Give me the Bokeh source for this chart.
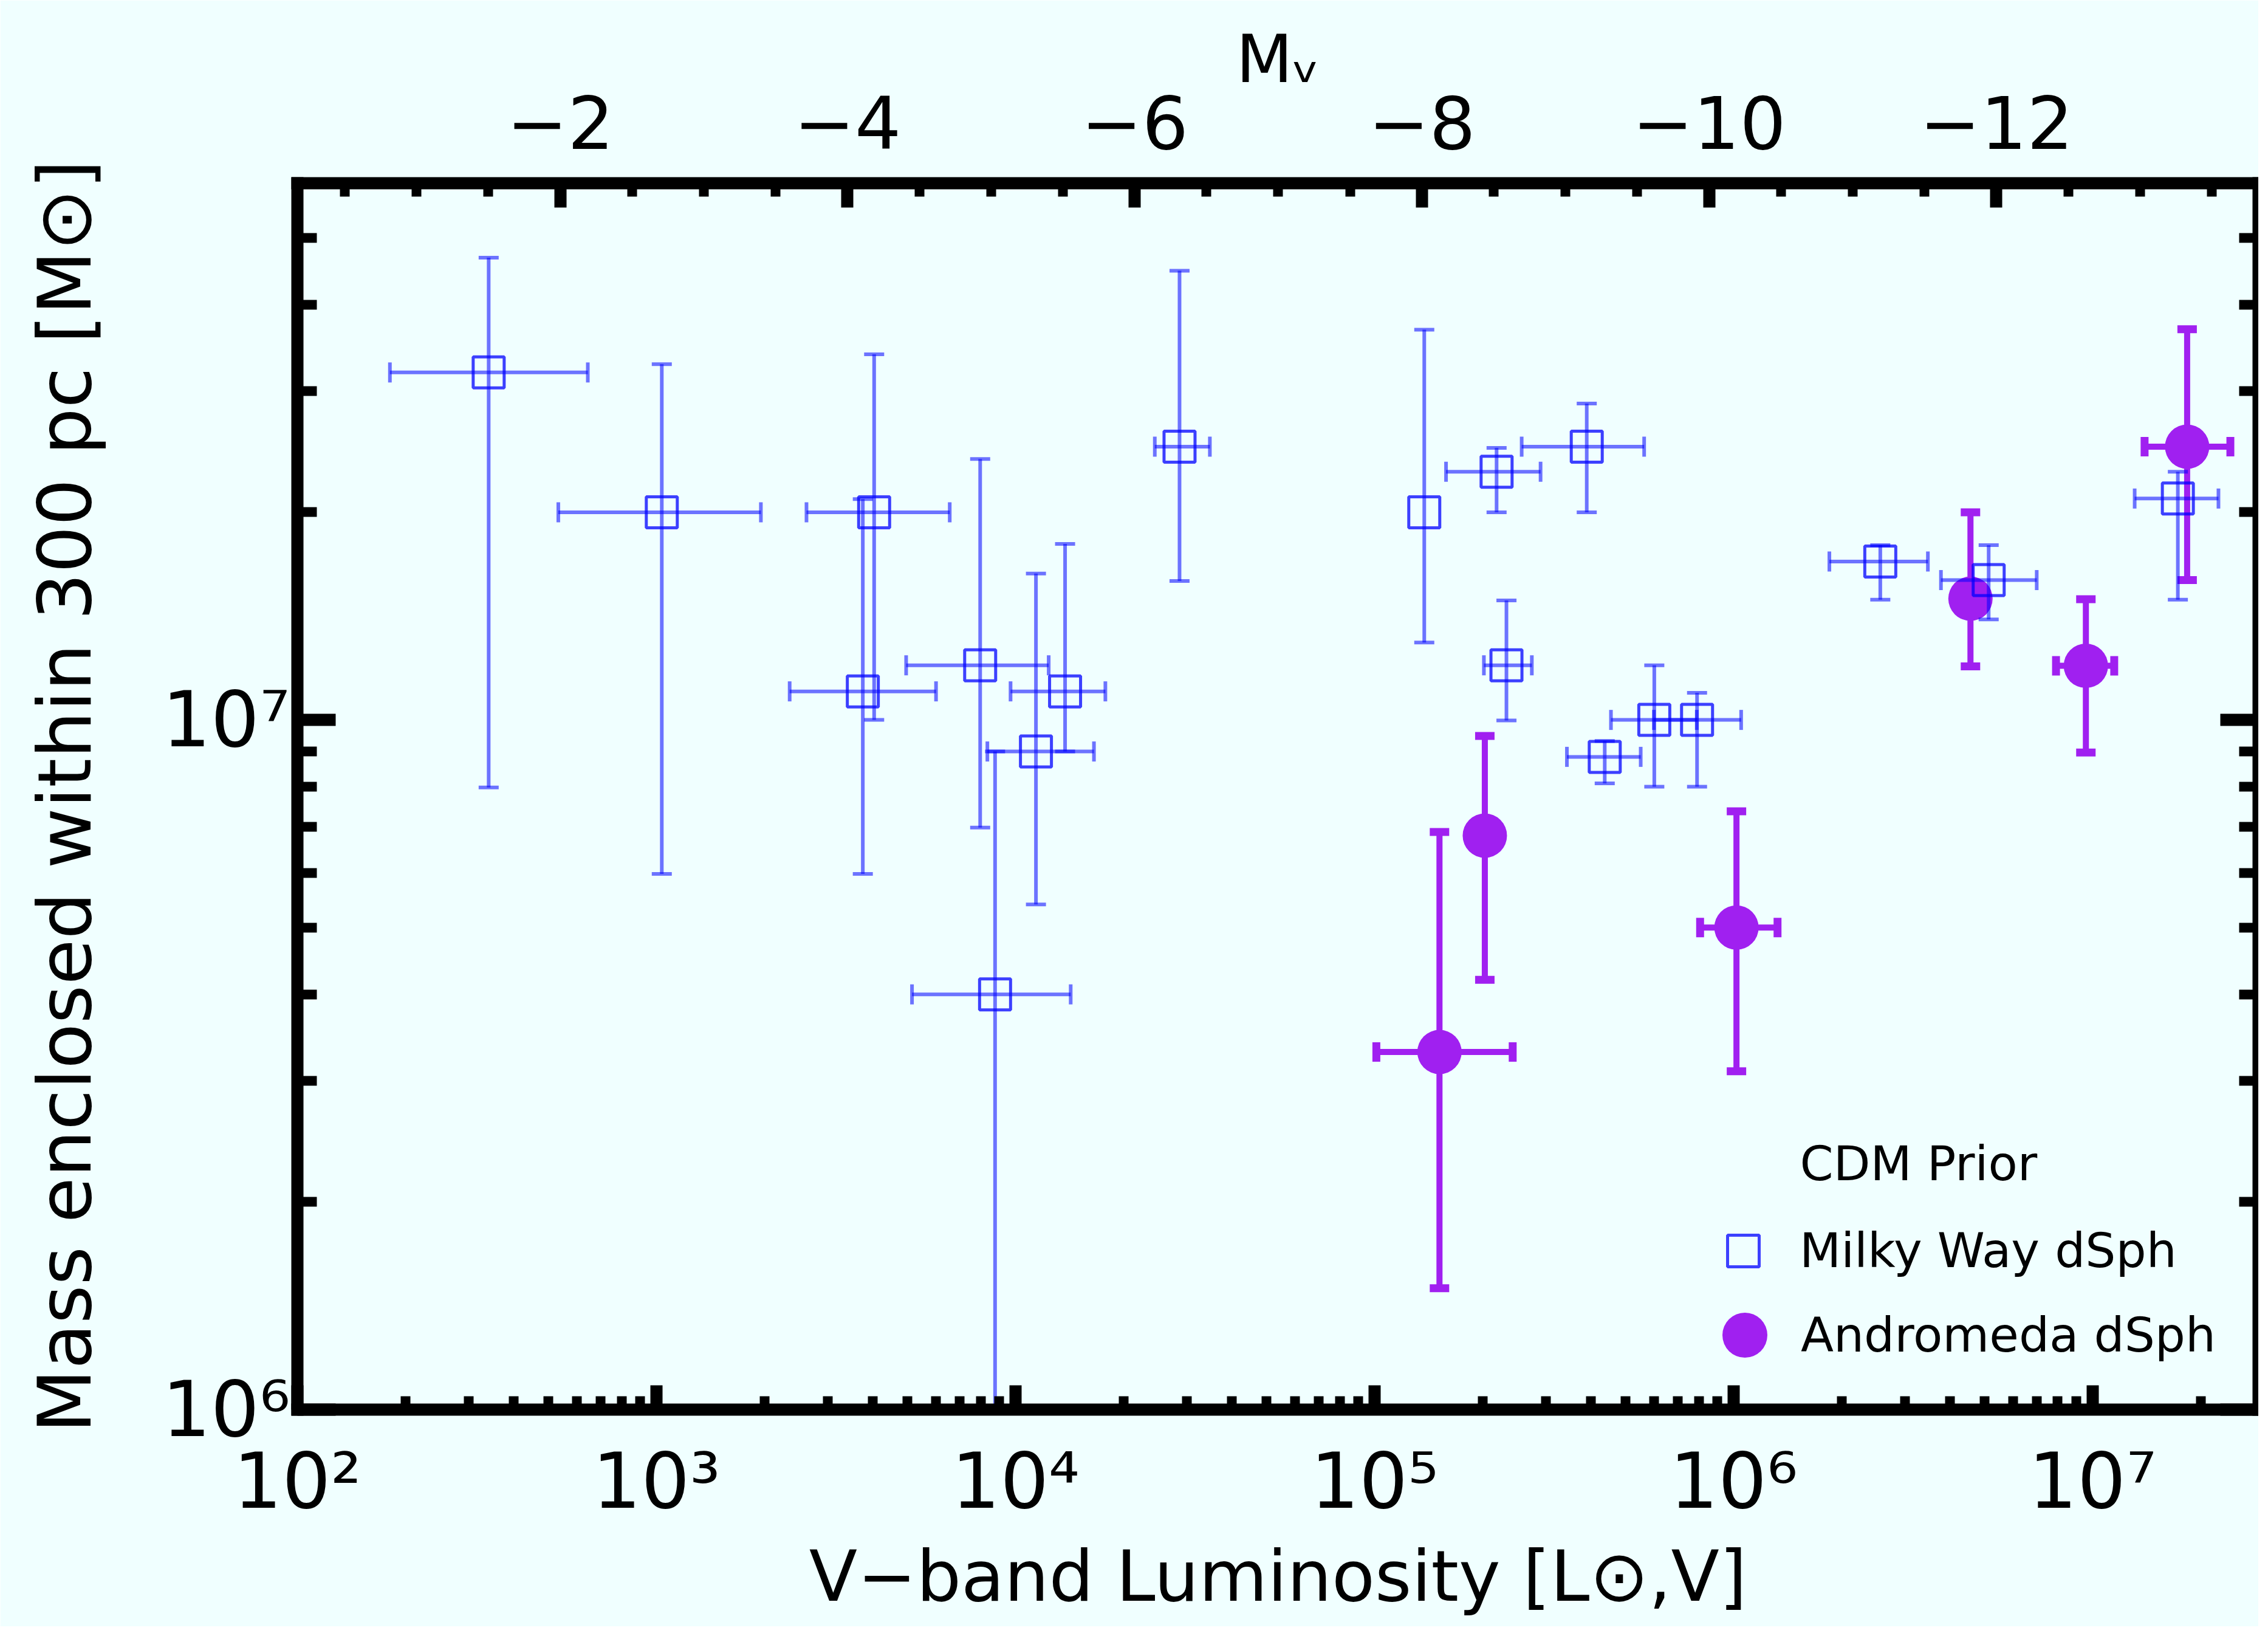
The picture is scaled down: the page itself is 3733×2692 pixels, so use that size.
import math
from bokeh.plotting import figure
from bokeh.models import (LogAxis, LinearAxis, FixedTicker, Range1d, Legend,
                          LegendItem, Label, ColumnDataSource, LinearScale)
from bokeh.embed import file_html
from bokeh.resources import INLINE

NAN = float("nan")

# ---------------- data ----------------
# Milky Way dSph: V-band luminosity [Lsun] and mass within 300 pc [Msun]
mw_lum = [341, 1035, 4040, 3757, 7974, 13746, 11404, 8774, 28640, 137600,
          218800, 390100, 233100, 437800, 601600, 791400, 2.563e6, 5.136e6, 1.728e7]
mw_lum_lo = [181, 533, 2618, 2350, 4960, 9690, 8351, 5150, 24440, NAN,
             158200, 257000, 201700, 343500, 455600, 600000, 1.849e6, 3.782e6, 1.31e7]
mw_lum_hi = [644, 1954, 6560, 6008, 12374, 17800, 16543, 14250, 34790, NAN,
             290100, 563700, 274300, 551400, 790000, 1.05e6, 3.478e6, 6.99e6, 2.242e7]
mw_mass = [3.19e7, 2.0e7, 2.0e7, 1.1e7, 1.2e7, 1.1e7, 9.0e6, 4.0e6, 2.49e7, 2.0e7,
           2.29e7, 2.49e7, 1.2e7, 8.84e6, 1.0e7, 1.0e7, 1.697e7, 1.595e7, 2.094e7]
mw_mass_lo = [7.98e6, 5.98e6, 1.0e7, 5.98e6, 6.98e6, 9.0e6, 5.4e6, 5.0e5, 1.59e7, 1.295e7,
              2.0e7, 2.0e7, 9.98e6, 8.09e6, 8.0e6, 8.0e6, 1.494e7, 1.399e7, 1.494e7]
mw_mass_hi = [4.68e7, 3.28e7, 3.39e7, 2.09e7, 2.39e7, 1.80e7, 1.63e7, 9.0e6, 4.48e7, 3.68e7,
              2.48e7, 2.875e7, 1.49e7, 9.32e6, 1.2e7, 1.095e7, 1.792e7, 1.792e7, 2.29e7]

# Andromeda dSph
m31_lum = [151700, 202900, 1.019e6, 4.57e6, 9.58e6, 1.834e7]
m31_lum_lo = [101200, NAN, 807000, NAN, 7.91e6, 1.396e7]
m31_lum_hi = [242600, NAN, 1.326e6, NAN, 1.149e7, 2.42e7]
m31_mass = [3.30e6, 6.795e6, 5.0e6, 1.499e7, 1.198e7, 2.49e7]
m31_mass_lo = [1.5e6, 4.2e6, 3.095e6, 1.196e7, 8.97e6, 1.595e7]
m31_mass_hi = [6.88e6, 9.48e6, 7.37e6, 2.0e7, 1.496e7, 3.686e7]

# axes / ticks
x_lim = (1e2, 2.9e7)
y_lim = (1e6, 6e7)
x_major_ticks = [1e2, 1e3, 1e4, 1e5, 1e6, 1e7]
x_tick_labels = ["10\u00b2", "10\u00b3", "10\u2074", "10\u2075", "10\u2076", "10\u2077"]
x_minor_ticks = [m * 10.0 ** e for e in range(2, 8) for m in range(2, 10)
                 if m * 10.0 ** e < x_lim[1]]
y_major_ticks = [1e6, 1e7]
y_tick_labels = ["10\u2076", "10\u2077"]
y_minor_ticks = [m * 10.0 ** e for e in range(6, 8) for m in range(2, 10)
                 if m * 10.0 ** e < y_lim[1]]
MSUN_V = 4.83
mv_major_ticks = [-2, -4, -6, -8, -10, -12]
mv_tick_labels = ["\u22122", "\u22124", "\u22126", "\u22128", "\u221210", "\u221212"]
mv_minor_ticks = [-0.5 * k for k in range(1, 28) if k % 4 != 0]

FONT = "DejaVu Sans"
BG = "#F0FFFF"
BLUE = "#0000FF"
PURPLE = "#A020F0"

p = figure(width=3717, height=2676, x_axis_type="log", y_axis_type="log",
           x_range=x_lim, y_range=y_lim, output_backend="svg",
           toolbar_location=None, background_fill_color=BG,
           border_fill_color=BG, min_border_left=489, min_border_right=0,
           min_border_top=301, min_border_bottom=357)
p.outline_line_color = None
p.xgrid.visible = False
p.ygrid.visible = False

p.extra_x_ranges = {"mv": Range1d(start=MSUN_V - 2.5 * math.log10(x_lim[0]),
                                  end=MSUN_V - 2.5 * math.log10(x_lim[1]))}
p.extra_x_scales = {"mv": LinearScale()}


def style_axis(ax, major_in, minor_in, label_size):
    ax.axis_line_width = 20
    ax.axis_line_color = "black"
    ax.axis_line_cap = "square"
    ax.major_tick_in = major_in
    ax.major_tick_out = 0
    ax.minor_tick_in = minor_in
    ax.minor_tick_out = 0
    ax.major_tick_line_width = 20
    ax.minor_tick_line_width = 16
    ax.major_tick_line_color = "black"
    ax.minor_tick_line_color = "black"
    ax.major_label_text_font = FONT
    ax.major_label_text_font_size = label_size
    ax.major_label_text_color = "black"
    ax.axis_label_text_font = FONT
    ax.axis_label_text_font_style = "normal"
    ax.axis_label_text_color = "black"


# bottom axis
xa = p.xaxis[0]
xa.ticker = FixedTicker(ticks=x_major_ticks, minor_ticks=x_minor_ticks)
xa.major_label_overrides = dict(zip(x_major_ticks, x_tick_labels))
style_axis(xa, 40, 22, "126px")
xa.major_label_standoff = 44
xa.axis_label = "V\u2212band Luminosity [L\u2299,V]"
xa.axis_label_text_font_size = "116px"
xa.axis_label_standoff = 12

# left axis
ya = p.yaxis[0]
ya.ticker = FixedTicker(ticks=y_major_ticks, minor_ticks=y_minor_ticks)
ya.major_label_overrides = dict(zip(y_major_ticks, y_tick_labels))
style_axis(ya, 63, 32, "126px")
ya.major_label_standoff = 12
ya.axis_label = "Mass enclosed within 300 pc [M\u2299]"
ya.axis_label_text_font_size = "122px"
ya.axis_label_standoff = 86

# right axis (ticks only, blank labels)
ra = LogAxis(ticker=FixedTicker(ticks=y_major_ticks, minor_ticks=y_minor_ticks))
style_axis(ra, 63, 32, "10px")
ra.major_label_overrides = {t: "" for t in y_major_ticks}
ra.major_label_standoff = 0
p.add_layout(ra, "right")

# top axis: absolute V magnitude
ta = LinearAxis(x_range_name="mv",
                ticker=FixedTicker(ticks=mv_major_ticks, minor_ticks=mv_minor_ticks))
ta.major_label_overrides = dict(zip(mv_major_ticks, mv_tick_labels))
style_axis(ta, 40, 22, "120px")
ta.major_label_standoff = 57
ta.axis_label = "M\u1d65"
ta.axis_label_text_font_size = "108px"
ta.axis_label_standoff = -6
p.add_layout(ta, "above")

# ---------------- Andromeda dSph ----------------
m31 = ColumnDataSource(dict(x=m31_lum, xlo=m31_lum_lo, xhi=m31_lum_hi,
                            y=m31_mass, ylo=m31_mass_lo, yhi=m31_mass_hi))
p.segment(x0="x", y0="ylo", x1="x", y1="yhi", source=m31,
          line_color=PURPLE, line_width=10)
p.segment(x0="xlo", y0="y", x1="xhi", y1="y", source=m31,
          line_color=PURPLE, line_width=10)
for ycol in ("ylo", "yhi"):
    p.scatter(x="x", y=ycol, source=m31, marker="dash", size=32,
              line_color=PURPLE, line_width=13)
for xcol in ("xlo", "xhi"):
    p.scatter(x=xcol, y="y", source=m31, marker="dash", size=32, angle=math.pi / 2,
              line_color=PURPLE, line_width=13)
m31_pts = p.scatter(x="x", y="y", source=m31, marker="circle", size=73,
                    fill_color=PURPLE, line_color=None)

# ---------------- Milky Way dSph ----------------
mw = ColumnDataSource(dict(x=mw_lum, xlo=mw_lum_lo, xhi=mw_lum_hi,
                           y=mw_mass, ylo=mw_mass_lo, yhi=mw_mass_hi))
p.segment(x0="x", y0="ylo", x1="x", y1="yhi", source=mw,
          line_color=BLUE, line_alpha=0.55, line_width=6)
p.segment(x0="xlo", y0="y", x1="xhi", y1="y", source=mw,
          line_color=BLUE, line_alpha=0.55, line_width=6)
for ycol in ("ylo", "yhi"):
    p.scatter(x="x", y=ycol, source=mw, marker="dash", size=33,
              line_color=BLUE, line_alpha=0.55, line_width=6)
for xcol in ("xlo", "xhi"):
    p.scatter(x=xcol, y="y", source=mw, marker="dash", size=33, angle=math.pi / 2,
              line_color=BLUE, line_alpha=0.55, line_width=6)
mw_pts = p.scatter(x="x", y="y", source=mw, marker="square", size=51,
                   fill_color=None, line_color=BLUE, line_alpha=0.75, line_width=5)

# ---------------- legend ----------------
p.add_layout(Label(x=2473, y=405, x_units="screen", y_units="screen",
                   text="CDM Prior", text_font=FONT, text_font_size="79px",
                   text_color="black", text_baseline="middle", text_align="left"))

common = dict(padding=0, margin=0, spacing=0, border_line_color=None,
              background_fill_alpha=0, label_text_font=FONT,
              label_text_font_size="79px", label_text_color="black")
leg_mw = Legend(items=[LegendItem(label="Milky Way dSph", renderers=[mw_pts])],
                location=(2315, 196), glyph_width=130, glyph_height=130,
                label_standoff=28, **common)
leg_m31 = Legend(items=[LegendItem(label="Andromeda dSph", renderers=[m31_pts])],
                 location=(2290, 30), glyph_width=185, glyph_height=185,
                 label_standoff=0, **common)
p.add_layout(leg_mw)
p.add_layout(leg_m31)

open("out.html", "w").write(file_html(p, INLINE))
